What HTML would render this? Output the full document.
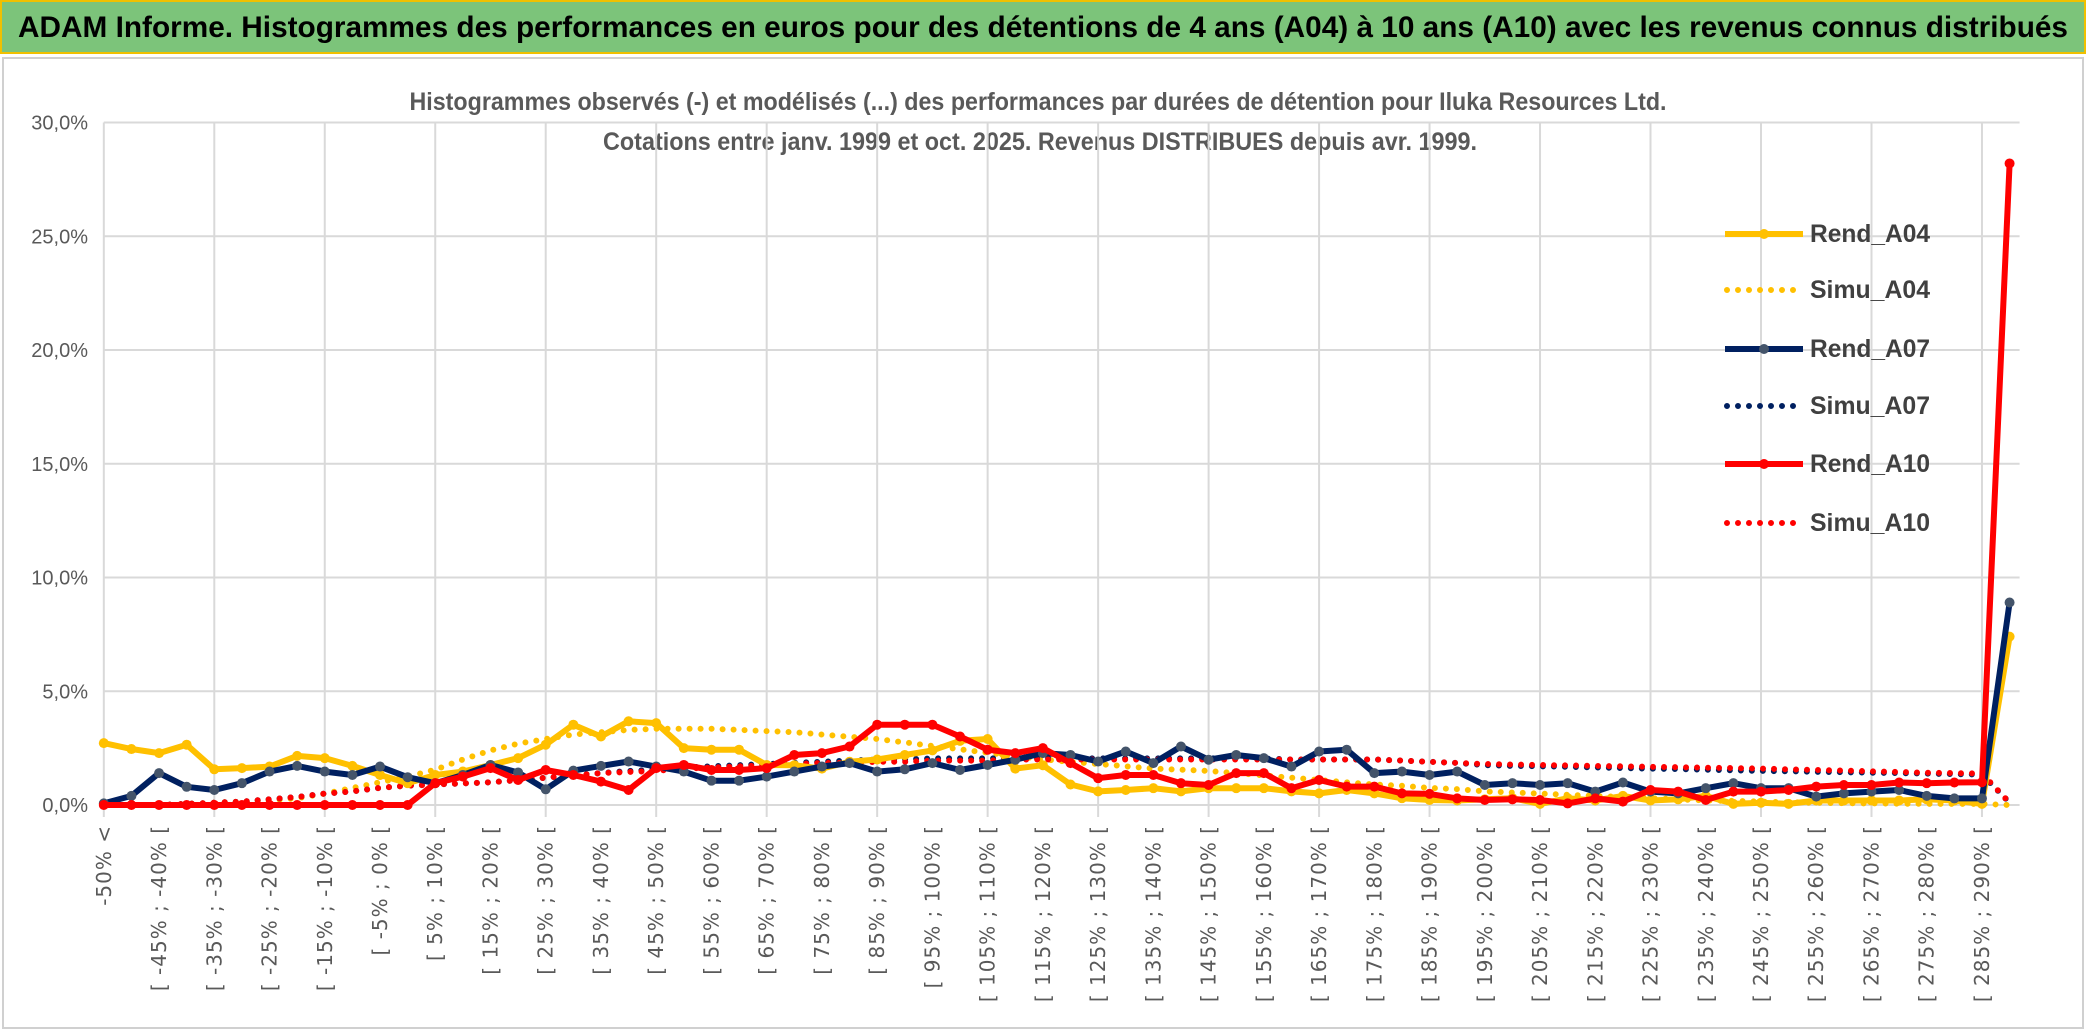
<!DOCTYPE html>
<html><head><meta charset="utf-8"><style>
body{margin:0;background:#fff;}
svg{display:block;font-family:"Liberation Sans",sans-serif;}
</style></head><body>
<svg id="chart" width="2086" height="1033" viewBox="0 0 2086 1033">
<rect x="0" y="0" width="2086" height="1033" fill="#fff"/>
<rect x="1" y="1" width="2084" height="52" fill="#7cc47a" stroke="#f0c000" stroke-width="2"/>
<text x="1043" y="37" text-anchor="middle" font-size="30" font-weight="bold" fill="#000" textLength="2050" lengthAdjust="spacingAndGlyphs">ADAM Informe. Histogrammes des performances en euros pour des détentions de 4 ans (A04) à 10 ans (A10) avec les revenus connus distribués</text>
<rect x="3" y="58" width="2080" height="970" fill="none" stroke="#d0d0d0" stroke-width="2"/>
<text x="1038" y="110" text-anchor="middle" font-size="25" font-weight="bold" fill="#595959" textLength="1257" lengthAdjust="spacingAndGlyphs">Histogrammes observés (-) et modélisés (...) des performances par durées de détention pour Iluka Resources Ltd.</text>
<text x="1040" y="150" text-anchor="middle" font-size="25" font-weight="bold" fill="#595959" textLength="874" lengthAdjust="spacingAndGlyphs">Cotations entre janv. 1999 et oct. 2025. Revenus DISTRIBUES depuis avr. 1999.</text>
<g id="grid"></g><g id="yaxis"></g><g id="xaxis"></g><g id="series"></g><g id="legend"></g>
</svg>
<script>
const categories = ["-50% <"];
for (let k = 0; k < 69; k++) { const a = -50 + 5 * k; categories.push("[ " + a + "% ; " + (a + 5) + "% ["); }
const yTicks = [0, 5, 10, 15, 20, 25, 30];
const yTickLabels = ["0,0%", "5,0%", "10,0%", "15,0%", "20,0%", "25,0%", "30,0%"];
const seriesNames = ["Rend_A04", "Simu_A04", "Rend_A07", "Simu_A07", "Rend_A10", "Simu_A10"];
const rendA04 = [2.72,2.46,2.28,2.65,1.57,1.62,1.69,2.16,2.06,1.72,1.32,0.96,1.32,1.47,1.76,2.06,2.65,3.53,3.01,3.68,3.6,2.5,2.43,2.43,1.76,1.75,1.6,1.9,2.0,2.2,2.4,2.82,2.9,1.6,1.75,0.9,0.6,0.66,0.74,0.6,0.74,0.74,0.74,0.6,0.51,0.66,0.51,0.3,0.22,0.2,0.25,0.3,0.05,0.3,0.2,0.4,0.2,0.25,0.4,0.05,0.1,0.05,0.2,0.2,0.2,0.2,0.25,0.2,0.05,7.4];
const simuA04 = [0,0,0,0.05,0.1,0.15,0.2,0.3,0.5,0.75,1.0,1.25,1.55,2.0,2.4,2.7,2.9,3.1,3.2,3.3,3.35,3.35,3.35,3.3,3.25,3.2,3.1,3.0,2.9,2.75,2.6,2.45,2.3,2.15,2.0,1.9,1.8,1.7,1.6,1.55,1.5,1.4,1.3,1.2,1.1,1.0,0.9,0.85,0.75,0.7,0.6,0.55,0.5,0.45,0.4,0.35,0.3,0.25,0.2,0.18,0.15,0.12,0.1,0.08,0.07,0.06,0.05,0.05,0.05,0];
const rendA07 = [0.07,0.4,1.4,0.8,0.66,0.96,1.47,1.72,1.47,1.32,1.69,1.22,0.96,1.32,1.76,1.43,0.69,1.51,1.72,1.91,1.69,1.47,1.07,1.07,1.25,1.47,1.69,1.84,1.47,1.57,1.84,1.54,1.76,1.99,2.28,2.2,1.91,2.35,1.84,2.57,1.99,2.2,2.06,1.69,2.35,2.43,1.4,1.47,1.32,1.47,0.88,0.96,0.88,0.96,0.59,0.99,0.59,0.51,0.74,0.96,0.74,0.74,0.37,0.51,0.59,0.66,0.4,0.29,0.29,8.9];
const simuA07 = [0,0,0,0.05,0.1,0.15,0.25,0.35,0.5,0.6,0.75,0.85,0.9,0.95,1.0,1.1,1.2,1.3,1.4,1.5,1.55,1.65,1.7,1.75,1.8,1.85,1.9,1.95,2.0,2.0,2.05,2.05,2.05,2.05,2.05,2.05,2.05,2.05,2.05,2.05,2.05,2.05,2.05,2.0,2.0,2.0,2.0,1.95,1.9,1.85,1.75,1.72,1.7,1.68,1.65,1.62,1.6,1.58,1.55,1.52,1.5,1.48,1.46,1.44,1.42,1.4,1.38,1.36,1.34,0.1];
const rendA10 = [0,0,0,0,0,0,0,0,0,0,0,0,0.96,1.25,1.62,1.1,1.54,1.32,1.03,0.66,1.62,1.76,1.54,1.54,1.62,2.2,2.28,2.57,3.53,3.53,3.53,3.01,2.43,2.28,2.5,1.84,1.18,1.32,1.32,0.96,0.88,1.4,1.4,0.74,1.1,0.81,0.81,0.51,0.49,0.29,0.22,0.25,0.22,0.07,0.29,0.15,0.66,0.59,0.22,0.59,0.59,0.66,0.81,0.88,0.88,0.99,0.96,0.99,1.0,28.2];
const simuA10 = [0,0,0,0.05,0.1,0.15,0.25,0.35,0.5,0.6,0.75,0.85,0.9,0.95,1.0,1.1,1.2,1.3,1.4,1.45,1.5,1.6,1.65,1.7,1.75,1.8,1.85,1.85,1.9,1.9,1.95,1.95,1.95,2.0,2.0,2.0,2.0,2.0,2.0,2.0,2.0,2.0,2.0,2.0,2.0,2.0,2.0,1.95,1.9,1.85,1.8,1.78,1.76,1.74,1.72,1.7,1.68,1.66,1.64,1.62,1.6,1.57,1.54,1.51,1.48,1.45,1.42,1.4,1.38,0.1];

const NS = "http://www.w3.org/2000/svg";
const X0 = 103.8, DX = 27.62, Y0 = 805, PX = 22.75;
function xPos(i) { return X0 + DX * i; }
function yPos(v) { return Y0 - PX * v; }
function mk(tag, attrs, parent) { const e = document.createElementNS(NS, tag); for (const k in attrs) e.setAttribute(k, attrs[k]); parent.appendChild(e); return e; }

const grid = document.getElementById("grid");
const yaxis = document.getElementById("yaxis");
const xaxis = document.getElementById("xaxis");
yTicks.forEach((t, i) => {
  const l = mk("line", {x1: xPos(0), x2: xPos(69) + 10, y1: yPos(t), y2: yPos(t), stroke: "#d9d9d9", "stroke-width": 2}, grid);
  
  
  const tx = mk("text", {x: 88, y: yPos(t) + 7, "text-anchor": "end", "font-size": 20, fill: "#595959"}, yaxis);
  tx.textContent = yTickLabels[i];
  
  
});
for (let i = 0; i < categories.length; i += 4) {
  const l = mk("line", {x1: xPos(i), x2: xPos(i), y1: yPos(30), y2: Y0 + 12, stroke: "#d9d9d9", "stroke-width": 2}, grid);
  
  
}
categories.forEach((c, i) => {
  if (i % 2 !== 0) return;
  const x = xPos(i) + 7, y = 825;
  const tx = mk("text", {x: x, y: y, "text-anchor": "end", "font-size": 20, fill: "#595959", "letter-spacing": "1", "font-family": "DejaVu Sans, sans-serif", transform: "rotate(-90 " + x + " " + y + ")"}, xaxis);
  tx.textContent = c;
  
  
});

const series = document.getElementById("series");
function pts(arr) { return arr.map((v, i) => xPos(i).toFixed(1) + "," + yPos(v).toFixed(1)).join(" "); }
function drawDotted(arr, color, name) {
  const p = mk("polyline", {points: pts(arr), fill: "none", stroke: color, "stroke-width": 6, "stroke-dasharray": "0 11", "stroke-linecap": "round"}, series);
  
  
}
function drawSolid(arr, color, mcolor, name) {
  const g = mk("g", {}, series);
  
  
  mk("polyline", {points: pts(arr), fill: "none", stroke: color, "stroke-width": 6, "stroke-linejoin": "round"}, g);
  arr.forEach((v, i) => {
    const c = mk("circle", {cx: xPos(i), cy: yPos(v), r: 5, fill: mcolor}, g);
    
    
  });
}
drawDotted(simuA04, "#ffc000", "simu-a04-line");
drawDotted(simuA07, "#002060", "simu-a07-line");
drawDotted(simuA10, "#ff0000", "simu-a10-line");
drawSolid(rendA04, "#ffc000", "#ffc000", "rend-a04-line");
drawSolid(rendA07, "#002060", "#44546a", "rend-a07-line");
drawSolid(rendA10, "#ff0000", "#ff0000", "rend-a10-line");

const legend = document.getElementById("legend");
const legColors = ["#ffc000", "#ffc000", "#002060", "#002060", "#ff0000", "#ff0000"];
const legY = [234, 290, 349, 406, 464, 523];
seriesNames.forEach((n, i) => {
  const g = mk("g", {}, legend);
  
  
  const y = legY[i];
  if (i % 2 === 0) {
    mk("line", {x1: 1725, x2: 1803, y1: y, y2: y, stroke: legColors[i], "stroke-width": 6}, g);
    mk("circle", {cx: 1764, cy: y, r: 5, fill: i === 2 ? "#44546a" : legColors[i]}, g);
  } else {
    mk("line", {x1: 1727, x2: 1803, y1: y, y2: y, stroke: legColors[i], "stroke-width": 6, "stroke-dasharray": "0 11", "stroke-linecap": "round"}, g);
  }
  const t = mk("text", {x: 1810, y: y + 8, "font-size": 25, "font-weight": "bold", fill: "#404040", textLength: 120, lengthAdjust: "spacingAndGlyphs"}, g);
  t.textContent = n;
});
</script>
</body></html>
